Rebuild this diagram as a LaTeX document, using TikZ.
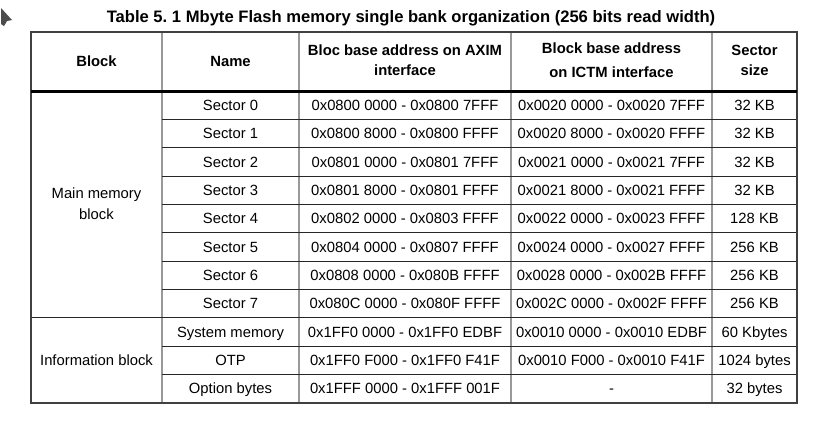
\documentclass[tikz,border=0pt]{standalone}
\usepackage{fontspec}
\setmainfont{Liberation Sans}
\frenchspacing
\begin{document}
\begin{tikzpicture}[x=0.75pt,y=-0.75pt,
        txt/.style={font=\fontsize{11.1}{15}\selectfont, inner sep=0pt, text height=7.95pt, text depth=0pt},
        blk/.style={font=\fontsize{11.1}{15.75}\selectfont, inner sep=0pt, align=center},
        hd/.style={font=\fontsize{11.1}{15}\selectfont\bfseries, inner sep=0pt, align=center},
        rule/.style={line width=0.75pt, black!85},
        col/.style={line width=1.5pt, black!40}]
    \useasboundingbox (0,0) rectangle (837,433);
    % pointer in the corner
    \fill [black!70] (1,8) -- (12,20) -- (7,21) -- (4,26) -- (1,24) -- cycle;
    % title
    \draw (411,18.5) node[hd, font=\fontsize{12.45}{14}\selectfont\bfseries] (title) {Table 5. 1 Mbyte Flash memory single bank organization (256 bits read width)};
    % grid
    \foreach \x in {162,299,511,712}
        \draw [col] (\x,32) -- (\x,403);
    \foreach \k in {1,...,7,9,10}
        \draw [rule] (162,{91+28.35*\k}) -- (797,{91+28.35*\k});
    \draw [rule] (31,{91+28.35*8}) -- (797,{91+28.35*8});
    \draw [line width=1pt, black!75] (31,32) rectangle (797,403);
    \draw [line width=2.25pt] (31,91) -- (797,91);
    % header
    \draw (96.5,61) node[hd] (hblock) {Block};
    \draw (230.5,61) node[hd] (hname) {Name};
    \draw (405,60) node[hd] (haxim) {Bloc base address on AXIM\\interface};
    \draw (611.5,60) node[hd, font=\fontsize{11.1}{18}\selectfont\bfseries] (hictm) {Block base address\\on ICTM interface};
    \draw (754.5,60.5) node[hd] (hsize) {Sector\\size};
    % blocks
    \draw (96.5,204) node[blk] (main) {Main memory\\block};
    \draw (96.5,360) node[blk] (info) {Information block};
    % rows
    \foreach \nm/\ax/\ic/\sz [count=\i from 0] in {
            Sector 0/0x0800 0000 - 0x0800 7FFF/0x0020 0000 - 0x0020 7FFF/32 KB,
            Sector 1/0x0800 8000 - 0x0800 FFFF/0x0020 8000 - 0x0020 FFFF/32 KB,
            Sector 2/0x0801 0000 - 0x0801 7FFF/0x0021 0000 - 0x0021 7FFF/32 KB,
            Sector 3/0x0801 8000 - 0x0801 FFFF/0x0021 8000 - 0x0021 FFFF/32 KB,
            Sector 4/0x0802 0000 - 0x0803 FFFF/0x0022 0000 - 0x0023 FFFF/128 KB,
            Sector 5/0x0804 0000 - 0x0807 FFFF/0x0024 0000 - 0x0027 FFFF/256 KB,
            Sector 6/0x0808 0000 - 0x080B FFFF/0x0028 0000 - 0x002B FFFF/256 KB,
            Sector 7/0x080C 0000 - 0x080F FFFF/0x002C 0000 - 0x002F FFFF/256 KB,
            System memory/0x1FF0 0000 - 0x1FF0 EDBF/0x0010 0000 - 0x0010 EDBF/60 Kbytes,
            OTP/0x1FF0 F000 - 0x1FF0 F41F/0x0010 F000 - 0x0010 F41F/1024 bytes,
            Option bytes/0x1FFF 0000 - 0x1FFF 001F/-/32 bytes}
    {
        \draw (230.5,{91+28.35*(\i+0.5)}) node[txt] (name\i) {\nm};
        \draw (405,{91+28.35*(\i+0.5)}) node[txt] (axim\i) {\ax};
        \draw (611.5,{91+28.35*(\i+0.5)}) node[txt] (ictm\i) {\ic};
        \draw (754.5,{91+28.35*(\i+0.5)}) node[txt] (size\i) {\sz};
    }
\end{tikzpicture}
\end{document}
